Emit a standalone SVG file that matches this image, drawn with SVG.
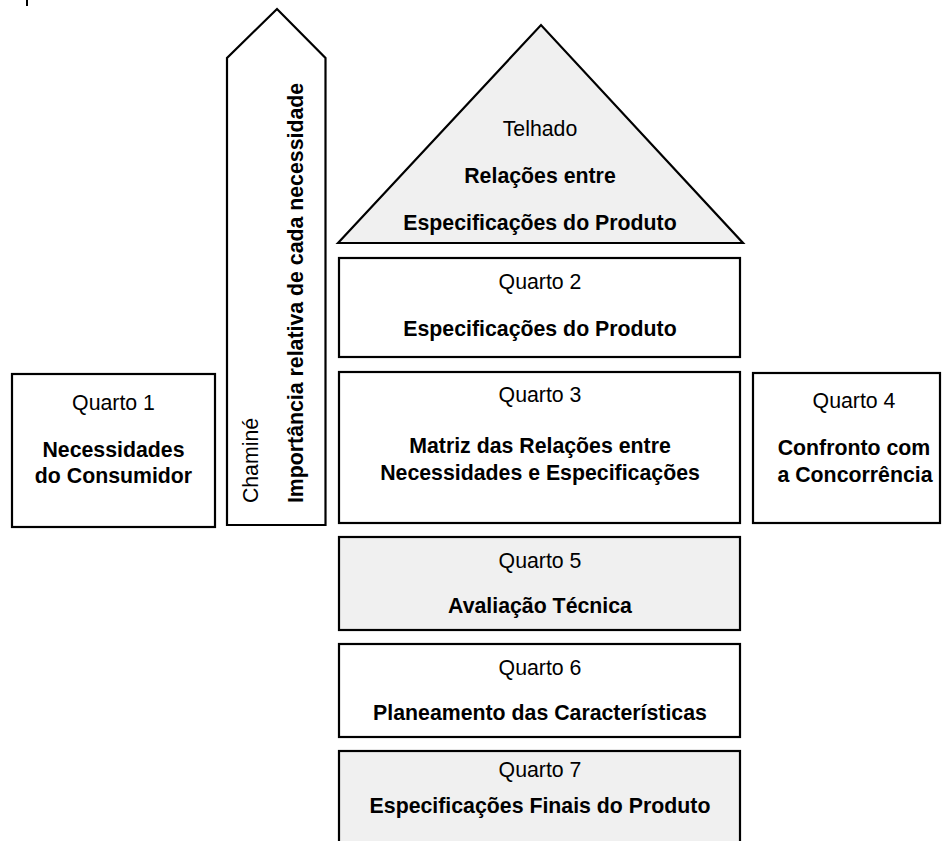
<svg xmlns="http://www.w3.org/2000/svg" width="943" height="841" viewBox="0 0 943 841">
<style>
.box{stroke:#000;stroke-width:2.2;fill:#fff}
.gray{fill:#f0f0f0}
text{font-family:"Liberation Sans",Arial,sans-serif;font-size:21.3px;fill:#000;text-anchor:middle}
.b{font-weight:bold}
</style>
<rect width="943" height="841" fill="#fff"/>
<line x1="27" y1="0" x2="27" y2="6" stroke="#000" stroke-width="2"/>
<g id="chimney">
<polygon class="box" points="227,525 227,58 277,9 325.5,58 325.5,525"/>
<text transform="translate(258,460.5) rotate(-90)">Chaminé</text>
<text class="b" transform="translate(302.5,293) rotate(-90)">Importância relativa de cada necessidade</text>
</g>
<g id="roof">
<polygon class="box gray" points="338,243 541,25 743,243"/>
<text x="540" y="136">Telhado</text>
<text class="b" x="540" y="183">Relações entre</text>
<text class="b" x="540" y="230">Especificações do Produto</text>
</g>
<g id="quarto2">
<rect class="box" x="339" y="258" width="401" height="99"/>
<text x="540" y="289">Quarto 2</text>
<text class="b" x="540" y="335.5">Especificações do Produto</text>
</g>
<g id="quarto1">
<rect class="box" x="12" y="374" width="203" height="153"/>
<text x="113.5" y="410">Quarto 1</text>
<text class="b" x="113.5" y="456.5">Necessidades</text>
<text class="b" x="113.5" y="483">do Consumidor</text>
</g>
<g id="quarto3">
<rect class="box" x="339" y="372" width="401" height="151"/>
<text x="540" y="401.5">Quarto 3</text>
<text class="b" x="540" y="453">Matriz das Relações entre</text>
<text class="b" x="540" y="480">Necessidades e Especificações</text>
</g>
<g id="quarto4">
<rect class="box" x="753" y="373" width="187" height="150"/>
<text x="854" y="408">Quarto 4</text>
<text class="b" x="854" y="455">Confronto com</text>
<text class="b" x="855" y="481.5">a Concorrência</text>
</g>
<g id="quarto5">
<rect class="box gray" x="339" y="537" width="401" height="93"/>
<text x="540" y="568">Quarto 5</text>
<text class="b" x="540" y="613">Avaliação Técnica</text>
</g>
<g id="quarto6">
<rect class="box" x="339" y="644" width="401" height="93"/>
<text x="540" y="675">Quarto 6</text>
<text class="b" x="540" y="720">Planeamento das Características</text>
</g>
<g id="quarto7">
<rect class="box gray" x="339" y="751" width="401" height="110"/>
<text x="540" y="776.5">Quarto 7</text>
<text class="b" x="540" y="813">Especificações Finais do Produto</text>
</g>
<g id="connectors"></g>
</svg>
